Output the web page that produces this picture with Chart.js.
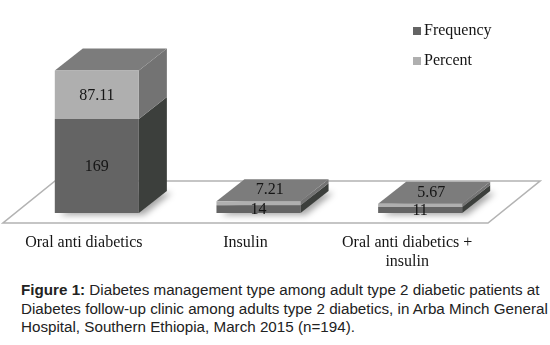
<!DOCTYPE html>
<html><head><meta charset="utf-8">
<script src="https://cdn.jsdelivr.net/npm/chart.js@4.4.1/dist/chart.umd.min.js"></script>
<style>
html,body{margin:0;padding:0;background:#fff;}
#wrap{position:relative;width:550px;height:345px;overflow:hidden;background:#fff;}
#c{position:absolute;left:0;top:0;}
#caption{position:absolute;left:21px;top:281px;white-space:nowrap;font-family:"Liberation Sans",Arial,sans-serif;font-size:15.2px;line-height:18.5px;color:#222;}
</style></head><body>
<div id="wrap"><canvas id="c" width="550" height="270"></canvas>
<div id="caption"><b>Figure 1:</b> Diabetes management type among adult type 2 diabetic patients at<br>Diabetes follow-up clinic among adults type 2 diabetics, in Arba Minch General<br>Hospital, Southern Ethiopia, March 2015 (n=194).</div></div>
<script>
// ---- data ----
const categories = ["Oral anti diabetics", "Insulin", ["Oral anti diabetics +", "insulin"]];
const seriesNames = ["Frequency", "Percent"];
const frequency = [169, 14, 11];
const percent = [87.11, 7.21, 5.67];

// ---- styles ----
const SERIF = '"Times New Roman", "Liberation Serif", serif';
const frontColors = ['#646464', '#afafaf'];
const sideColors = ['#3c3f3c', '#737373'];
const topColor = '#7c7c7c';
const DX = 28, DY = -22;     // bar depth
const FDX = 52, FDY = -42;   // floor depth

function poly(ctx, pts, fill){
  ctx.beginPath(); ctx.moveTo(pts[0][0], pts[0][1]);
  for (let i=1;i<pts.length;i++) ctx.lineTo(pts[i][0], pts[i][1]);
  ctx.closePath(); ctx.fillStyle = fill; ctx.fill();
}

const threeD = {
  id: 'threeD',
  beforeDatasetsDraw(chart){
    const ctx = chart.ctx, ca = chart.chartArea;
    const y0 = chart.scales.y.getPixelForValue(0);
    const fy = y0 + 10, fl = ca.left - 13, fr = ca.right - 13;
    ctx.save();
    // floor
    ctx.beginPath();
    ctx.moveTo(fl, fy); ctx.lineTo(fr, fy); ctx.lineTo(fr+FDX, fy+FDY); ctx.lineTo(fl+FDX, fy+FDY); ctx.closePath();
    ctx.fillStyle = '#ffffff'; ctx.fill();
    ctx.lineWidth = 1.6; ctx.strokeStyle = '#b3b3b3'; ctx.stroke();
    const m0 = chart.getDatasetMeta(0), m1 = chart.getDatasetMeta(1);
    // shadows
    m0.data.forEach(b => {
      const l = b.x - b.width/2, r = b.x + b.width/2;
      ctx.save(); ctx.filter = 'blur(3px)';
      poly(ctx, [[l+5, y0+2],[r+5, y0+2],[r+DX+5, y0+DY+2],[l+DX+5, y0+DY+2]], 'rgba(0,0,0,0.35)');
      ctx.restore();
    });
    // side and top faces
    m0.data.forEach((b, i) => {
      const t = m1.data[i];
      const l = b.x - b.width/2, r = b.x + b.width/2;
      poly(ctx, [[r, b.base],[r, b.y],[r+DX, b.y+DY],[r+DX, b.base+DY]], sideColors[0]);
      poly(ctx, [[r, t.base],[r, t.y],[r+DX, t.y+DY],[r+DX, t.base+DY]], sideColors[1]);
      poly(ctx, [[l, t.y],[r, t.y],[r+DX, t.y+DY],[l+DX, t.y+DY]], topColor);
    });
    ctx.restore();
  },
  afterDatasetsDraw(chart){
    const ctx = chart.ctx;
    ctx.save();
    ctx.font = '16px ' + SERIF;
    ctx.fillStyle = '#151515';
    ctx.textAlign = 'center'; ctx.textBaseline = 'middle';
    chart.data.datasets.forEach((ds, di) => {
      const meta = chart.getDatasetMeta(di);
      meta.data.forEach((b, i) => {
        const h = b.base - b.y;
        let x = b.x, y = (b.y + b.base)/2;
        if (di === 1 && h < 18) { x = b.x + DX*0.4; y = b.y + DY*0.55; }
        ctx.fillText(String(ds.data[i]), x, y + 1);
      });
    });
    // legend
    const lx = chart.width - 137;
    chart.data.datasets.forEach((ds, di) => {
      const ly = 31 + di*30;
      ctx.fillStyle = frontColors[di];
      ctx.fillRect(lx, ly - 4, 8, 8);
      ctx.fillStyle = '#151515'; ctx.textAlign = 'left';
      ctx.fillText(ds.label, lx + 11, ly);
    });
    ctx.restore();
  }
};

new Chart(document.getElementById('c'), {
  type: 'bar',
  data: {
    labels: categories,
    datasets: [
      { label: seriesNames[0], data: frequency, backgroundColor: frontColors[0], borderWidth: 0, barPercentage: 0.52, categoryPercentage: 1.0 },
      { label: seriesNames[1], data: percent, backgroundColor: frontColors[1], borderWidth: 0, barPercentage: 0.52, categoryPercentage: 1.0 }
    ]
  },
  options: {
    responsive: false,
    animation: false,
    layout: { padding: { left: 16, right: 49, top: 10, bottom: 0 } },
    plugins: { legend: { display: false }, tooltip: { enabled: false } },
    scales: {
      x: {
        stacked: true,
        grid: { display: false, drawTicks: false },
        border: { display: false },
        ticks: { padding: 20, labelOffset: -13, color: '#151515', autoSkip: false, maxRotation: 0,
                 font: { family: SERIF, size: 16, lineHeight: 1.2 } },
        afterFit(s){ s.height = 57; }
      },
      y: { stacked: true, display: false, min: 0, max: 365 }
    }
  },
  plugins: [threeD]
});
</script>
</body></html>
